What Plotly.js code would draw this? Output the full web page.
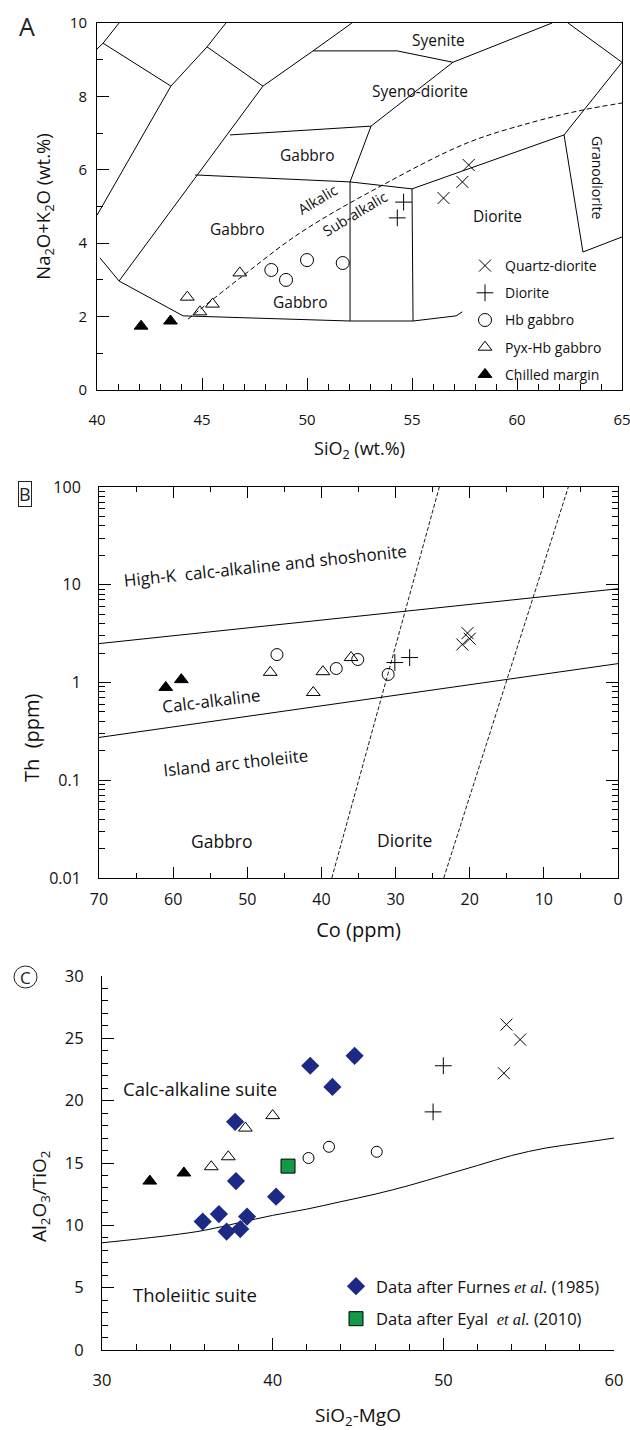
<!DOCTYPE html>
<html><head><meta charset="utf-8">
<script src="https://cdn.plot.ly/plotly-3.0.1.min.js"></script>
<style>html,body{margin:0;padding:0;background:#fff}</style>
</head><body>
<div id="chart" style="width:630px;height:1430px"></div>
<script>
// ===== Panel A: SiO2 vs Na2O+K2O =====
const aQuartzDioriteSi = [56.5, 57.4, 57.7];
const aQuartzDioriteAlk = [5.23, 5.67, 6.13];
const aDioriteSi = [54.3, 54.6];
const aDioriteAlk = [4.69, 5.12];
const aHbGabbroSi = [48.3, 49.0, 50.0, 51.7];
const aHbGabbroAlk = [3.27, 3.0, 3.54, 3.46];
const aPyxHbGabbroSi = [44.3, 44.9, 45.5, 46.8];
const aPyxHbGabbroAlk = [2.53, 2.13, 2.34, 3.19];
const aChilledSi = [42.1, 43.5];
const aChilledAlk = [1.74, 1.88];
// field boundaries (polylines separated by null)
const aFieldSi = [40,40.29,41.05,null, 40.29,43.52,45.24,46.14,null, 45.24,47.9,50.29,52.14,null,
  50.29,54.29,56.95,61.67,null, 62.43,65,null, 56.95,53.05,52.05,52.05,null, 46.33,53.05,null,
  44.67,52.05,55.0,62.24,65,null, 55.0,55.05,null, 62.24,63.14,65,null, 43.52,40,null, 47.9,41.05,null,
  40.14,41.05,44.1,52.05,55.05,57.1,57.4];
const aFieldAlk = [9.29,9.45,10,null, 9.45,8.28,9.35,10,null, 9.35,8.28,9.24,10,null,
  9.24,9.24,8.93,10,null, 10,8.93,null, 8.93,7.19,5.67,1.88,null, 6.95,7.19,null,
  5.86,5.67,5.48,6.95,8.93,null, 5.48,1.88,null, 6.95,3.76,4.17,null, 8.28,4.76,null, 8.28,2.97,null,
  3.6,2.97,2.02,1.88,1.88,2.02,2.13];
const aAlkalicSi = [44.33, 46.81, 49.67, 53.62, 57.62, 60.76, 63.14, 65];
const aAlkalicAlk = [1.93, 3.05, 4.28, 5.59, 6.73, 7.30, 7.63, 7.82];
const aXTicks = [40, 45, 50, 55, 60, 65];

// ===== Panel B: Co vs Th =====
const bChilledCo = [61.0, 58.9];
const bChilledTh = [0.89, 1.07];
const bPyxHbCo = [46.9, 41.1, 39.8, 36.0];
const bPyxHbTh = [1.27, 0.79, 1.29, 1.8];
const bHbCo = [46.0, 38.0, 35.1, 31.0];
const bHbTh = [1.93, 1.39, 1.72, 1.21];
const bDioriteCo = [30.1, 28.1];
const bDioriteTh = [1.6, 1.8];
const bQdCo = [21.0, 20.3, 20.0];
const bQdTh = [2.45, 3.2, 2.8];
const bHighKCo = [70, 0], bHighKTh = [2.5, 9.1];
const bIATCo = [70, 0], bIATTh = [0.274, 1.56];
const bDash1Co = [38.6, 24.1], bDash1Th = [0.01, 100];
const bDash2Co = [23.5, 6.7], bDash2Th = [0.01, 100];

// ===== Panel C: SiO2-MgO vs Al2O3/TiO2 =====
const cFurnesX = [42.2, 37.8, 37.85, 44.8, 43.5, 35.9, 36.85, 37.3, 38.1, 38.5, 40.2];
const cFurnesY = [22.8, 18.3, 13.55, 23.6, 21.1, 10.3, 10.9, 9.5, 9.7, 10.7, 12.3];
const cEyalX = [40.9];
const cEyalY = [14.75];
const cPyxHbX = [36.4, 37.4, 38.4, 40.0];
const cPyxHbY = [14.7, 15.5, 17.8, 18.8];
const cChilledX = [32.8, 34.8];
const cChilledY = [13.55, 14.2];
const cHbX = [42.1, 43.3, 46.1];
const cHbY = [15.4, 16.3, 15.9];
const cDioriteX = [49.4, 50.0];
const cDioriteY = [19.1, 22.8];
const cQdX = [53.55, 53.7, 54.5];
const cQdY = [22.2, 26.1, 24.9];
const cDivideX = [30, 34, 36, 38, 40, 42, 44, 46, 48, 50, 52, 54, 56, 58, 60];
const cDivideY = [8.6, 9.2, 9.6, 10.2, 10.8, 11.3, 11.9, 12.5, 13.2, 14.0, 14.8, 15.6, 16.2, 16.6, 17.0];

const FONT = '"Open Sans", "Noto Sans", sans-serif';
const W = 630, H = 1430;
const px = v => v / W, py = v => 1 - v / H;
const f = s => ({family: FONT, size: s, color: '#111'});

function sc(x, y, xa, ya, sym, size, name, opts) {
  return Object.assign({
    type: 'scatter', mode: 'markers', x: x, y: y, xaxis: xa, yaxis: ya, name: name,
    marker: {symbol: sym, size: size, color: '#000', line: {color: '#000', width: 1}},
    showlegend: false, hoverinfo: 'skip'
  }, opts || {});
}
function ln(x, y, xa, ya, dash, w, shape) {
  return {type: 'scatter', mode: 'lines', x: x, y: y, xaxis: xa, yaxis: ya, connectgaps: false,
    line: {color: '#000', width: w || 1, dash: dash || 'solid', shape: shape || 'linear'}, showlegend: false, hoverinfo: 'skip'};
}

const traces = [
  // A
  ln(aFieldSi, aFieldAlk, 'x', 'y'),
  ln(aAlkalicSi, aAlkalicAlk, 'x', 'y', '5px,3px', 1, 'spline'),
  sc(aQuartzDioriteSi, aQuartzDioriteAlk, 'x', 'y', 'x-thin-open', 12, 'Quartz-diorite', {showlegend: true, legendgroup: 'g1', legend: 'legend'}),
  sc(aDioriteSi, aDioriteAlk, 'x', 'y', 'cross-thin-open', 12, 'Diorite', {showlegend: true, legendgroup: 'g2', legend: 'legend'}),
  sc(aHbGabbroSi, aHbGabbroAlk, 'x', 'y', 'circle-open', 13, 'Hb gabbro', {showlegend: true, legendgroup: 'g3', legend: 'legend'}),
  sc(aPyxHbGabbroSi, aPyxHbGabbroAlk, 'x', 'y', 'triangle-up-open', 12, 'Pyx-Hb gabbro', {showlegend: true, legendgroup: 'g4', legend: 'legend'}),
  sc(aChilledSi, aChilledAlk, 'x', 'y', 'triangle-up', 12, 'Chilled margin', {showlegend: true, legendgroup: 'g5', legend: 'legend'}),
  // B
  ln(bHighKCo, bHighKTh, 'x2', 'y2'),
  ln(bIATCo, bIATTh, 'x2', 'y2'),
  ln(bDash1Co, bDash1Th, 'x2', 'y2', '4px,2px', 0.9),
  ln(bDash2Co, bDash2Th, 'x2', 'y2', '4px,2px', 0.9),
  sc(bQdCo, bQdTh, 'x2', 'y2', 'x-thin-open', 12, 'Quartz-diorite'),
  sc(bDioriteCo, bDioriteTh, 'x2', 'y2', 'cross-thin-open', 12, 'Diorite'),
  sc(bHbCo, bHbTh, 'x2', 'y2', 'circle-open', 12, 'Hb gabbro'),
  sc(bPyxHbCo, bPyxHbTh, 'x2', 'y2', 'triangle-up-open', 12, 'Pyx-Hb gabbro'),
  sc(bChilledCo, bChilledTh, 'x2', 'y2', 'triangle-up', 12, 'Chilled margin'),
  // C
  ln(cDivideX, cDivideY, 'x3', 'y3', 'solid', 1, 'spline'),
  sc(cQdX, cQdY, 'x3', 'y3', 'x-thin-open', 12, 'Quartz-diorite'),
  sc(cDioriteX, cDioriteY, 'x3', 'y3', 'cross-thin-open', 12, 'Diorite'),
  sc(cHbX, cHbY, 'x3', 'y3', 'circle-open', 11, 'Hb gabbro'),
  sc(cPyxHbX, cPyxHbY, 'x3', 'y3', 'triangle-up-open', 12, 'Pyx-Hb gabbro'),
  sc(cChilledX, cChilledY, 'x3', 'y3', 'triangle-up', 12, 'Chilled margin'),
  sc(cFurnesX, cFurnesY, 'x3', 'y3', 'diamond', 14, 'Data after Furnes <span style="font-family:\'Liberation Serif\'"><i>et al.</i></span> (1985)',
    {showlegend: true, legend: 'legend2', legendgroup: 'c1', marker: {symbol: 'diamond', size: 14, color: '#1c2a86', line: {width: 0}}}),
  sc(cEyalX, cEyalY, 'x3', 'y3', 'square', 14, 'Data after Eyal  <span style="font-family:\'Liberation Serif\'"><i>et al.</i></span> (2010)',
    {showlegend: true, legend: 'legend2', legendgroup: 'c2', marker: {symbol: 'square', size: 14, color: '#12994a', line: {color: '#000', width: 1}}})
];

const axBase = {showgrid: false, zeroline: false, showline: true, linecolor: '#000', linewidth: 1,
  ticks: 'inside', tickcolor: '#000', tickwidth: 1, ticklabeloverflow: 'allow'};

const layout = {
  width: W, height: H, margin: {l: 0, r: 0, t: 0, b: 0},
  paper_bgcolor: '#fff', plot_bgcolor: '#fff', font: {family: FONT, color: '#111'},
  hovermode: false,
  xaxis: Object.assign({}, axBase, {domain: [px(97), px(622)], range: [40, 65], tickvals: aXTicks, ticklen: 12,
    tickfont: f(15), minor: {dtick: 1, tick0: 40, ticks: 'inside', ticklen: 6, tickcolor: '#000'}, mirror: true, anchor: 'y',
    ticklabelstandoff: 16, title: {text: 'SiO<sub>2</sub> (wt.%)', font: f(18), standoff: 14}}),
  yaxis: Object.assign({}, axBase, {domain: [py(390), py(23)], range: [0, 10], dtick: 2, ticklen: 12,
    tickfont: f(15), minor: {dtick: 1, ticks: 'inside', ticklen: 6, tickcolor: '#000'}, mirror: true, anchor: 'x',
    ticklabelstandoff: 6, title: {text: 'Na<sub>2</sub>O+K<sub>2</sub>O (wt.%)', font: f(18.5), standoff: 14}}),
  xaxis2: Object.assign({}, axBase, {domain: [px(99), px(618)], range: [70, 0], dtick: 10, ticklen: 11,
    tickfont: f(16), minor: {dtick: 5, ticks: 'inside', ticklen: 5, tickcolor: '#000'}, mirror: 'ticks', anchor: 'y2',
    ticklabelstandoff: 7, title: {text: 'Co (ppm)', font: f(20), standoff: 13}}),
  yaxis2: Object.assign({}, axBase, {domain: [py(878), py(487)], type: 'log', range: [-2, 2], dtick: 1, ticklen: 12,
    tickfont: f(16), minor: {ticks: 'inside', ticklen: 6, tickcolor: '#000', dtick: 'D1'}, mirror: 'ticks', anchor: 'x2',
    ticklabelstandoff: 14}),
  xaxis3: Object.assign({}, axBase, {domain: [px(102), px(614)], range: [30, 60], dtick: 10, ticklen: 12,
    tickfont: f(16.5), minor: {dtick: 2, ticks: 'inside', ticklen: 6, tickcolor: '#000'}, anchor: 'y3',
    ticklabelstandoff: 15, title: {text: 'SiO<sub>2</sub>-MgO', font: f(19), standoff: 20}}),
  yaxis3: Object.assign({}, axBase, {domain: [py(1350), py(976)], range: [0, 30], dtick: 5, ticklen: 12,
    tickfont: f(16.5), minor: {dtick: 1, ticks: 'inside', ticklen: 6, tickcolor: '#000'}, anchor: 'x3',
    ticklabelstandoff: 14}),
  legend: {x: px(465), y: py(250), xanchor: 'left', yanchor: 'top', bgcolor: 'rgba(0,0,0,0)',
    font: f(14), tracegroupgap: 6, itemclick: false},
  legend2: {x: px(336), y: py(1269), xanchor: 'left', yanchor: 'top', bgcolor: 'rgba(0,0,0,0)',
    font: f(16.5), tracegroupgap: 8, itemclick: false},
  annotations: [
    // panel letters
    {xref: 'paper', yref: 'paper', x: px(27), y: py(26), xanchor: 'center', yanchor: 'middle', text: 'A', showarrow: false, font: {family: FONT, size: 25, color: '#222'}},
    {xref: 'paper', yref: 'paper', x: px(25), y: py(494), xanchor: 'center', yanchor: 'middle', text: 'B', showarrow: false, font: {family: FONT, size: 18, color: '#222'},
      bordercolor: '#222', borderwidth: 1, borderpad: 0},
    {xref: 'paper', yref: 'paper', x: px(25.5), y: py(977), xanchor: 'center', yanchor: 'middle', text: 'C', showarrow: false, font: {family: FONT, size: 17, color: '#222'}},
    // y titles placed as in the reference
    {xref: 'paper', yref: 'paper', x: px(31), y: py(738), xanchor: 'center', yanchor: 'middle', textangle: -90, text: 'Th  (ppm)', showarrow: false, font: f(20)},
    {xref: 'paper', yref: 'paper', x: px(40), y: py(1197), xanchor: 'center', yanchor: 'middle', textangle: -90, text: 'Al<sub>2</sub>O<sub>3</sub>/TiO<sub>2</sub>', showarrow: false, font: f(19)},
    // A labels
    {xref: 'x', yref: 'y', x: 56.24, y: 9.54, text: 'Syenite', showarrow: false, font: f(15.5)},
    {xref: 'x', yref: 'y', x: 55.38, y: 8.15, text: 'Syeno-diorite', showarrow: false, font: f(15.5)},
    {xref: 'x', yref: 'y', x: 50.0, y: 6.4, text: 'Gabbro', showarrow: false, font: f(15.5)},
    {xref: 'x', yref: 'y', x: 46.71, y: 4.39, text: 'Gabbro', showarrow: false, font: f(15.5)},
    {xref: 'x', yref: 'y', x: 49.67, y: 2.4, text: 'Gabbro', showarrow: false, font: f(15.5)},
    {xref: 'x', yref: 'y', x: 59.05, y: 4.74, text: 'Diorite', showarrow: false, font: f(15.5)},
    {xref: 'x', yref: 'y', x: 63.86, y: 5.8, text: 'Granodiorite', textangle: 90, showarrow: false, font: f(14)},
    {xref: 'x', yref: 'y', x: 50.5, y: 5.2, text: 'Alkalic', textangle: -31, showarrow: false, font: f(14.5)},
    {xref: 'x', yref: 'y', x: 52.3, y: 4.8, text: 'Sub-alkalic', textangle: -31, showarrow: false, font: f(14.5)},
    // B labels
    {xref: 'x2', yref: 'paper', x: 47.6, y: py(565), text: 'High-K  calc-alkaline and shoshonite', textangle: -6, showarrow: false, font: f(17)},
    {xref: 'x2', yref: 'paper', x: 54.8, y: py(701), text: 'Calc-alkaline', textangle: -7, showarrow: false, font: f(17)},
    {xref: 'x2', yref: 'paper', x: 51.5, y: py(763), text: 'Island arc tholeiite', textangle: -6, showarrow: false, font: f(17)},
    {xref: 'x2', yref: 'paper', x: 53.4, y: py(841), text: 'Gabbro', showarrow: false, font: f(17.5)},
    {xref: 'x2', yref: 'paper', x: 28.8, y: py(840), text: 'Diorite', showarrow: false, font: f(17.5)},
    // C labels
    {xref: 'x3', yref: 'y3', x: 35.74, y: 21.0, text: 'Calc-alkaline suite', showarrow: false, font: f(18.5)},
    {xref: 'x3', yref: 'y3', x: 35.45, y: 4.49, text: 'Tholeiitic suite', showarrow: false, font: f(18.5)}
  ],
  shapes: [
    {type: 'circle', xref: 'paper', yref: 'paper', x0: px(14), x1: px(37), y0: py(988), y1: py(966), line: {color: '#222', width: 1}}
  ]
};

Plotly.newPlot('chart', traces, layout, {staticPlot: true, displayModeBar: false});
</script>
</body></html>
